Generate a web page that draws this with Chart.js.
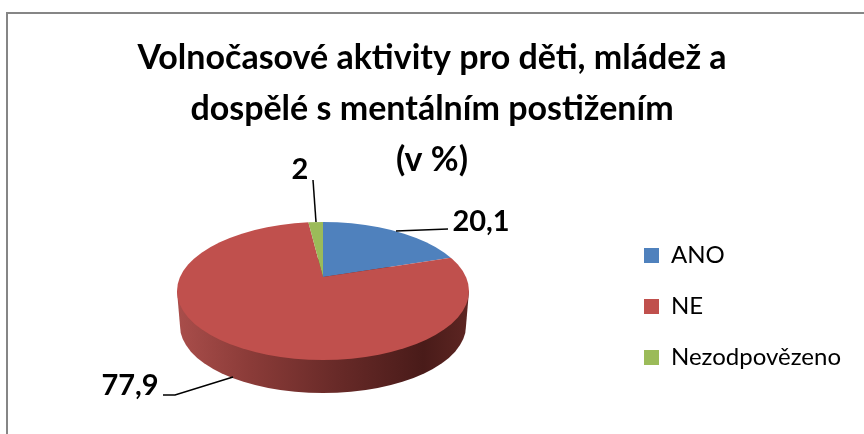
<!DOCTYPE html>
<html>
<head>
<meta charset="utf-8">
<title>Volnočasové aktivity</title>
<script src="https://cdn.jsdelivr.net/npm/chart.js@4"></script>
<style>
  html, body { margin: 0; padding: 0; background: #fff; }
  #wrap { width: 864px; height: 434px; overflow: hidden; }
</style>
</head>
<body>
<div id="wrap"><canvas id="pieChart" width="864" height="434"></canvas></div>
<script>
var categories = ['ANO', 'NE', 'Nezodpovězeno'];
var values = [20.1, 77.9, 2];
var colors = ['#4f81bd', '#c0504d', '#9bbb59'];
var titleLines = ['Volnočasové aktivity pro děti, mládež a', 'dospělé s mentálním postižením', '(v %)'];

// where the tilted pie sits on the page
var face = {x: 323, y: 291, rx: 146, ry: 69, apexY: 277};
var base = {x: 323, y: 326, rx: 143, ry: 67};

// label anchor + leader line for each slice
var callouts = [
    {x: 481, y: 222, line: [[396, 231], [448, 229]]},
    {x: 130, y: 386, line: [[163, 395], [175, 395], [233, 377]]},
    {x: 300, y: 170, line: [[313, 180], [316, 222]]}
];

function ellipsePath(ctx, e) {
    ctx.beginPath();
    ctx.ellipse(e.x, e.y, e.rx, e.ry, 0, 0, Math.PI * 2);
}

var pie3d = {
    id: 'pie3d',
    beforeDraw: function (chart) {
        // the frame is cropped, only its top and left edges show
        var ctx = chart.ctx;
        ctx.save();
        ctx.strokeStyle = '#868686';
        ctx.lineWidth = 2;
        ctx.beginPath();
        ctx.moveTo(7, 434);
        ctx.lineTo(7, 13);
        ctx.lineTo(864, 13);
        ctx.stroke();
        ctx.restore();
    },
    afterLayout: function (chart) {
        // the built in legend would stay centred, move it next to the pie
        var lg = chart.legend;
        lg.left = 617;
        lg.top += 91;
        lg.bottom += 91;
    },
    beforeDatasetDraw: function (chart) {
        var ctx = chart.ctx;
        var arc = chart.getDatasetMeta(0).data[0];

        // side wall of the pie
        ctx.save();
        var g = ctx.createLinearGradient(base.x - base.rx, 0, base.x + base.rx, 0);
        g.addColorStop(0, '#a84d4a');
        g.addColorStop(0.25, '#8a3b38');
        g.addColorStop(0.55, '#682a28');
        g.addColorStop(0.85, '#491b19');
        g.addColorStop(1, '#5c2522');
        ctx.fillStyle = g;
        ellipsePath(ctx, base);
        ctx.fill();
        ctx.beginPath();
        ctx.moveTo(face.x - face.rx, face.y);
        ctx.lineTo(base.x - base.rx, base.y);
        ctx.lineTo(base.x + base.rx, base.y);
        ctx.lineTo(face.x + face.rx, face.y);
        ctx.closePath();
        ctx.fill();
        ctx.restore();

        // top face: slices meet above the ellipse centre (perspective), so
        // oversize them and clip to the face
        ctx.save();
        ellipsePath(ctx, face);
        ctx.clip();
        var k = 2.2 * face.rx / arc.outerRadius;
        ctx.translate(face.x, face.apexY);
        ctx.scale(k, k * face.ry / face.rx);
        ctx.translate(-arc.x, -arc.y);
    },
    afterDatasetDraw: function (chart) {
        chart.ctx.restore();
    },
    afterDatasetsDraw: function (chart) {
        var ctx = chart.ctx;
        ctx.save();
        ctx.strokeStyle = '#000';
        ctx.lineWidth = 1.5;
        ctx.fillStyle = '#000';
        ctx.font = 'bold 29px Lato';
        ctx.textAlign = 'center';
        ctx.textBaseline = 'middle';
        callouts.forEach(function (c, i) {
            ctx.beginPath();
            c.line.forEach(function (p, j) {
                if (j === 0) ctx.moveTo(p[0], p[1]); else ctx.lineTo(p[0], p[1]);
            });
            ctx.stroke();
            ctx.fillText(String(values[i]).replace('.', ','), c.x, c.y);
        });
        ctx.restore();
    }
};

new Chart(document.getElementById('pieChart'), {
    type: 'pie',
    data: {
        labels: categories,
        datasets: [{
            data: values,
            backgroundColor: colors,
            borderWidth: 0
        }]
    },
    plugins: [pie3d],
    options: {
        responsive: false,
        animation: false,
        layout: {padding: {left: 20, right: 20, top: 0, bottom: 3}},
        plugins: {
            tooltip: {enabled: false},
            title: {
                display: true,
                text: titleLines,
                color: '#000',
                font: {family: 'Lato', size: 34, weight: 'bold', lineHeight: 1.5},
                padding: {top: 33, bottom: 0}
            },
            legend: {
                position: 'right',
                labels: {
                    color: '#000',
                    font: {family: 'Lato', size: 24},
                    boxWidth: 15,
                    boxHeight: 15,
                    padding: 27
                }
            }
        }
    }
});
</script>
</body>
</html>
